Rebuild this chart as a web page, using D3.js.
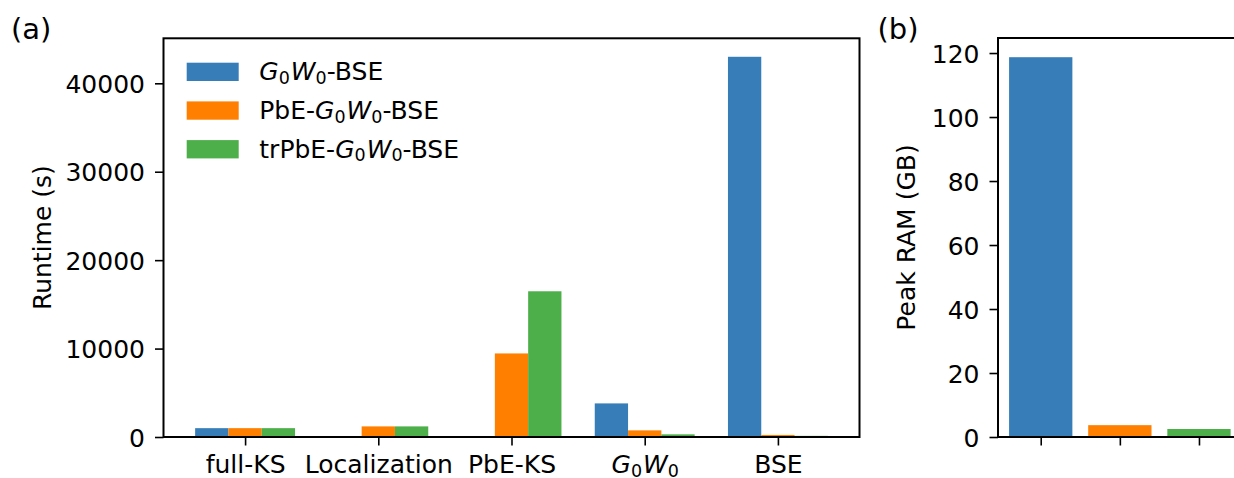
<!DOCTYPE html>
<html>
<head>
<meta charset="utf-8">
<script src="https://cdn.jsdelivr.net/npm/d3@7"></script>
<style>
  body { margin: 0; background: #fff; }
  svg { display: block; }
  text { font-family: "DejaVu Sans", sans-serif; fill: #000; }
</style>
</head>
<body>
<svg id="chart" width="1234" height="478"></svg>
<script>
// ---- data ----
const categories = ["full-KS", "Localization", "PbE-KS", "G0W0", "BSE"];
const seriesNames = ["G0W0-BSE", "PbE-G0W0-BSE", "trPbE-G0W0-BSE"];
const seriesColors = ["#377eb8", "#ff7f00", "#4daf4a"];
const runtimeG0W0BSE = [1000, 0, 0, 3800, 43000];
const runtimePbEG0W0BSE = [1000, 1200, 9450, 750, 230];
const runtimeTrPbEG0W0BSE = [1000, 1200, 16480, 300, 130];
const ramValues = [118.7, 3.7, 2.5];
const runtimeTicks = [0, 10000, 20000, 30000, 40000];
const ramTicks = [0, 20, 40, 60, 80, 100, 120];

const runtimeSeries = [runtimeG0W0BSE, runtimePbEG0W0BSE, runtimeTrPbEG0W0BSE];

const svg = d3.select("#chart");
const FS = 25;

// render label with G0W0 as mathtext-like italic + subscripts
function richText(sel, label, fs) {
  sel.text(null);
  const sub = fs * 0.15;
  let pending = 0;
  function add(txt, opts) {
    const t = sel.append("tspan").text(txt);
    let dy = pending + (opts.dy || 0);
    if (dy) t.attr("dy", dy);
    pending = 0;
    if (opts.italic) t.attr("font-style", "italic");
    if (opts.small) t.attr("font-size", fs * 0.7);
    if (opts.dx) t.attr("dx", opts.dx);
    return t;
  }
  const parts = label.split("G0W0");
  parts.forEach((p, i) => {
    if (p) add(p, {});
    if (i < parts.length - 1) {
      add("G", { italic: true });
      add("0", { small: true, dy: sub });
      add("W", { italic: true, dy: -sub, dx: 1 });
      add("0", { small: true, dy: sub });
      pending = -sub;
    }
  });
}

function styleAxis(g) {
  g.select(".domain").remove();
  g.selectAll(".tick line").attr("stroke", "#000").attr("stroke-width", 1.6);
  g.selectAll(".tick text").attr("font-size", FS).attr("font-family", "DejaVu Sans").attr("fill", "#000");
}

// ---- panel (a) ----
const A = { left: 163.5, right: 859.5, top: 38.3, bottom: 437 };
const barW = 0.25;
const xA = d3.scaleLinear().domain([-0.6125, categories.length - 1 + 0.6125]).range([A.left, A.right]);
const yA = d3.scaleLinear().domain([0, 45090]).range([A.bottom, A.top]);

const gA = svg.append("g");
runtimeSeries.forEach((vals, s) => {
  gA.append("g").selectAll("rect").data(vals).join("rect")
    .attr("x", (d, i) => xA(i + (s - 1) * barW - barW / 2))
    .attr("width", (d, i) => xA(i + (s - 1) * barW + barW / 2) - xA(i + (s - 1) * barW - barW / 2))
    .attr("y", d => yA(d))
    .attr("height", d => yA(0) - yA(d))
    .attr("fill", seriesColors[s]);
});

const axAy = gA.append("g").attr("transform", `translate(${A.left},0)`)
  .call(d3.axisLeft(yA).tickValues(runtimeTicks).tickSize(8.5).tickPadding(10).tickFormat(d3.format("d")));
styleAxis(axAy);
axAy.selectAll(".tick text").attr("dy", "0.36em");

const axAx = gA.append("g").attr("transform", `translate(0,${A.bottom})`)
  .call(d3.axisBottom(xA).tickValues(d3.range(categories.length)).tickSize(8.5).tickPadding(8).tickFormat(i => categories[i]));
styleAxis(axAx);
axAx.selectAll(".tick text").attr("dy", null).attr("y", 36).each(function(i) { richText(d3.select(this), categories[i], FS); });

gA.append("rect").attr("x", A.left).attr("y", A.top).attr("width", A.right - A.left).attr("height", A.bottom - A.top)
  .attr("fill", "none").attr("stroke", "#000").attr("stroke-width", 2);

gA.append("text").attr("transform", `translate(51,${(A.top + A.bottom) / 2}) rotate(-90)`)
  .attr("text-anchor", "middle").attr("font-size", FS).text("Runtime (s)");

// legend
const leg = gA.append("g");
seriesNames.forEach((name, s) => {
  const y0 = 62.7 + s * 38.7;
  leg.append("rect").attr("x", 186.7).attr("y", y0).attr("width", 52).attr("height", 18.3).attr("fill", seriesColors[s]);
  const t = leg.append("text").attr("x", 259.3).attr("y", y0 + 17.5).attr("font-size", FS);
  richText(t, name, FS);
});

svg.append("text").attr("x", 11).attr("y", 39).attr("font-family", "Open Sans").attr("font-size", 29).text("(a)");

// ---- panel (b) ----
const B = { left: 998, right: 1241.7, top: 38, bottom: 437 };
const xB = d3.scaleLinear().domain([-0.54, ramValues.length - 1 + 0.54]).range([B.left, B.right]);
const yB = d3.scaleLinear().domain([0, 124.7]).range([B.bottom, B.top]);
const gB = svg.append("g");
gB.append("g").selectAll("rect").data(ramValues).join("rect")
  .attr("x", (d, i) => xB(i - 0.4))
  .attr("width", (d, i) => xB(i + 0.4) - xB(i - 0.4))
  .attr("y", d => yB(d))
  .attr("height", d => yB(0) - yB(d))
  .attr("fill", (d, i) => seriesColors[i]);

const axBy = gB.append("g").attr("transform", `translate(${B.left},0)`)
  .call(d3.axisLeft(yB).tickValues(ramTicks).tickSize(8.5).tickPadding(10).tickFormat(d3.format("d")));
styleAxis(axBy);
axBy.selectAll(".tick text").attr("dy", "0.36em");

const axBx = gB.append("g").attr("transform", `translate(0,${B.bottom})`)
  .call(d3.axisBottom(xB).tickValues(d3.range(ramValues.length)).tickSize(8.5).tickFormat(""));
styleAxis(axBx);

gB.append("rect").attr("x", B.left).attr("y", B.top).attr("width", B.right - B.left).attr("height", B.bottom - B.top)
  .attr("fill", "none").attr("stroke", "#000").attr("stroke-width", 2);

gB.append("text").attr("transform", `translate(915,${(B.top + B.bottom) / 2}) rotate(-90)`)
  .attr("text-anchor", "middle").attr("font-size", FS).text("Peak RAM (GB)");

svg.append("text").attr("x", 877.5).attr("y", 39).attr("font-family", "Open Sans").attr("font-size", 29).text("(b)");
</script>
</body>
</html>
